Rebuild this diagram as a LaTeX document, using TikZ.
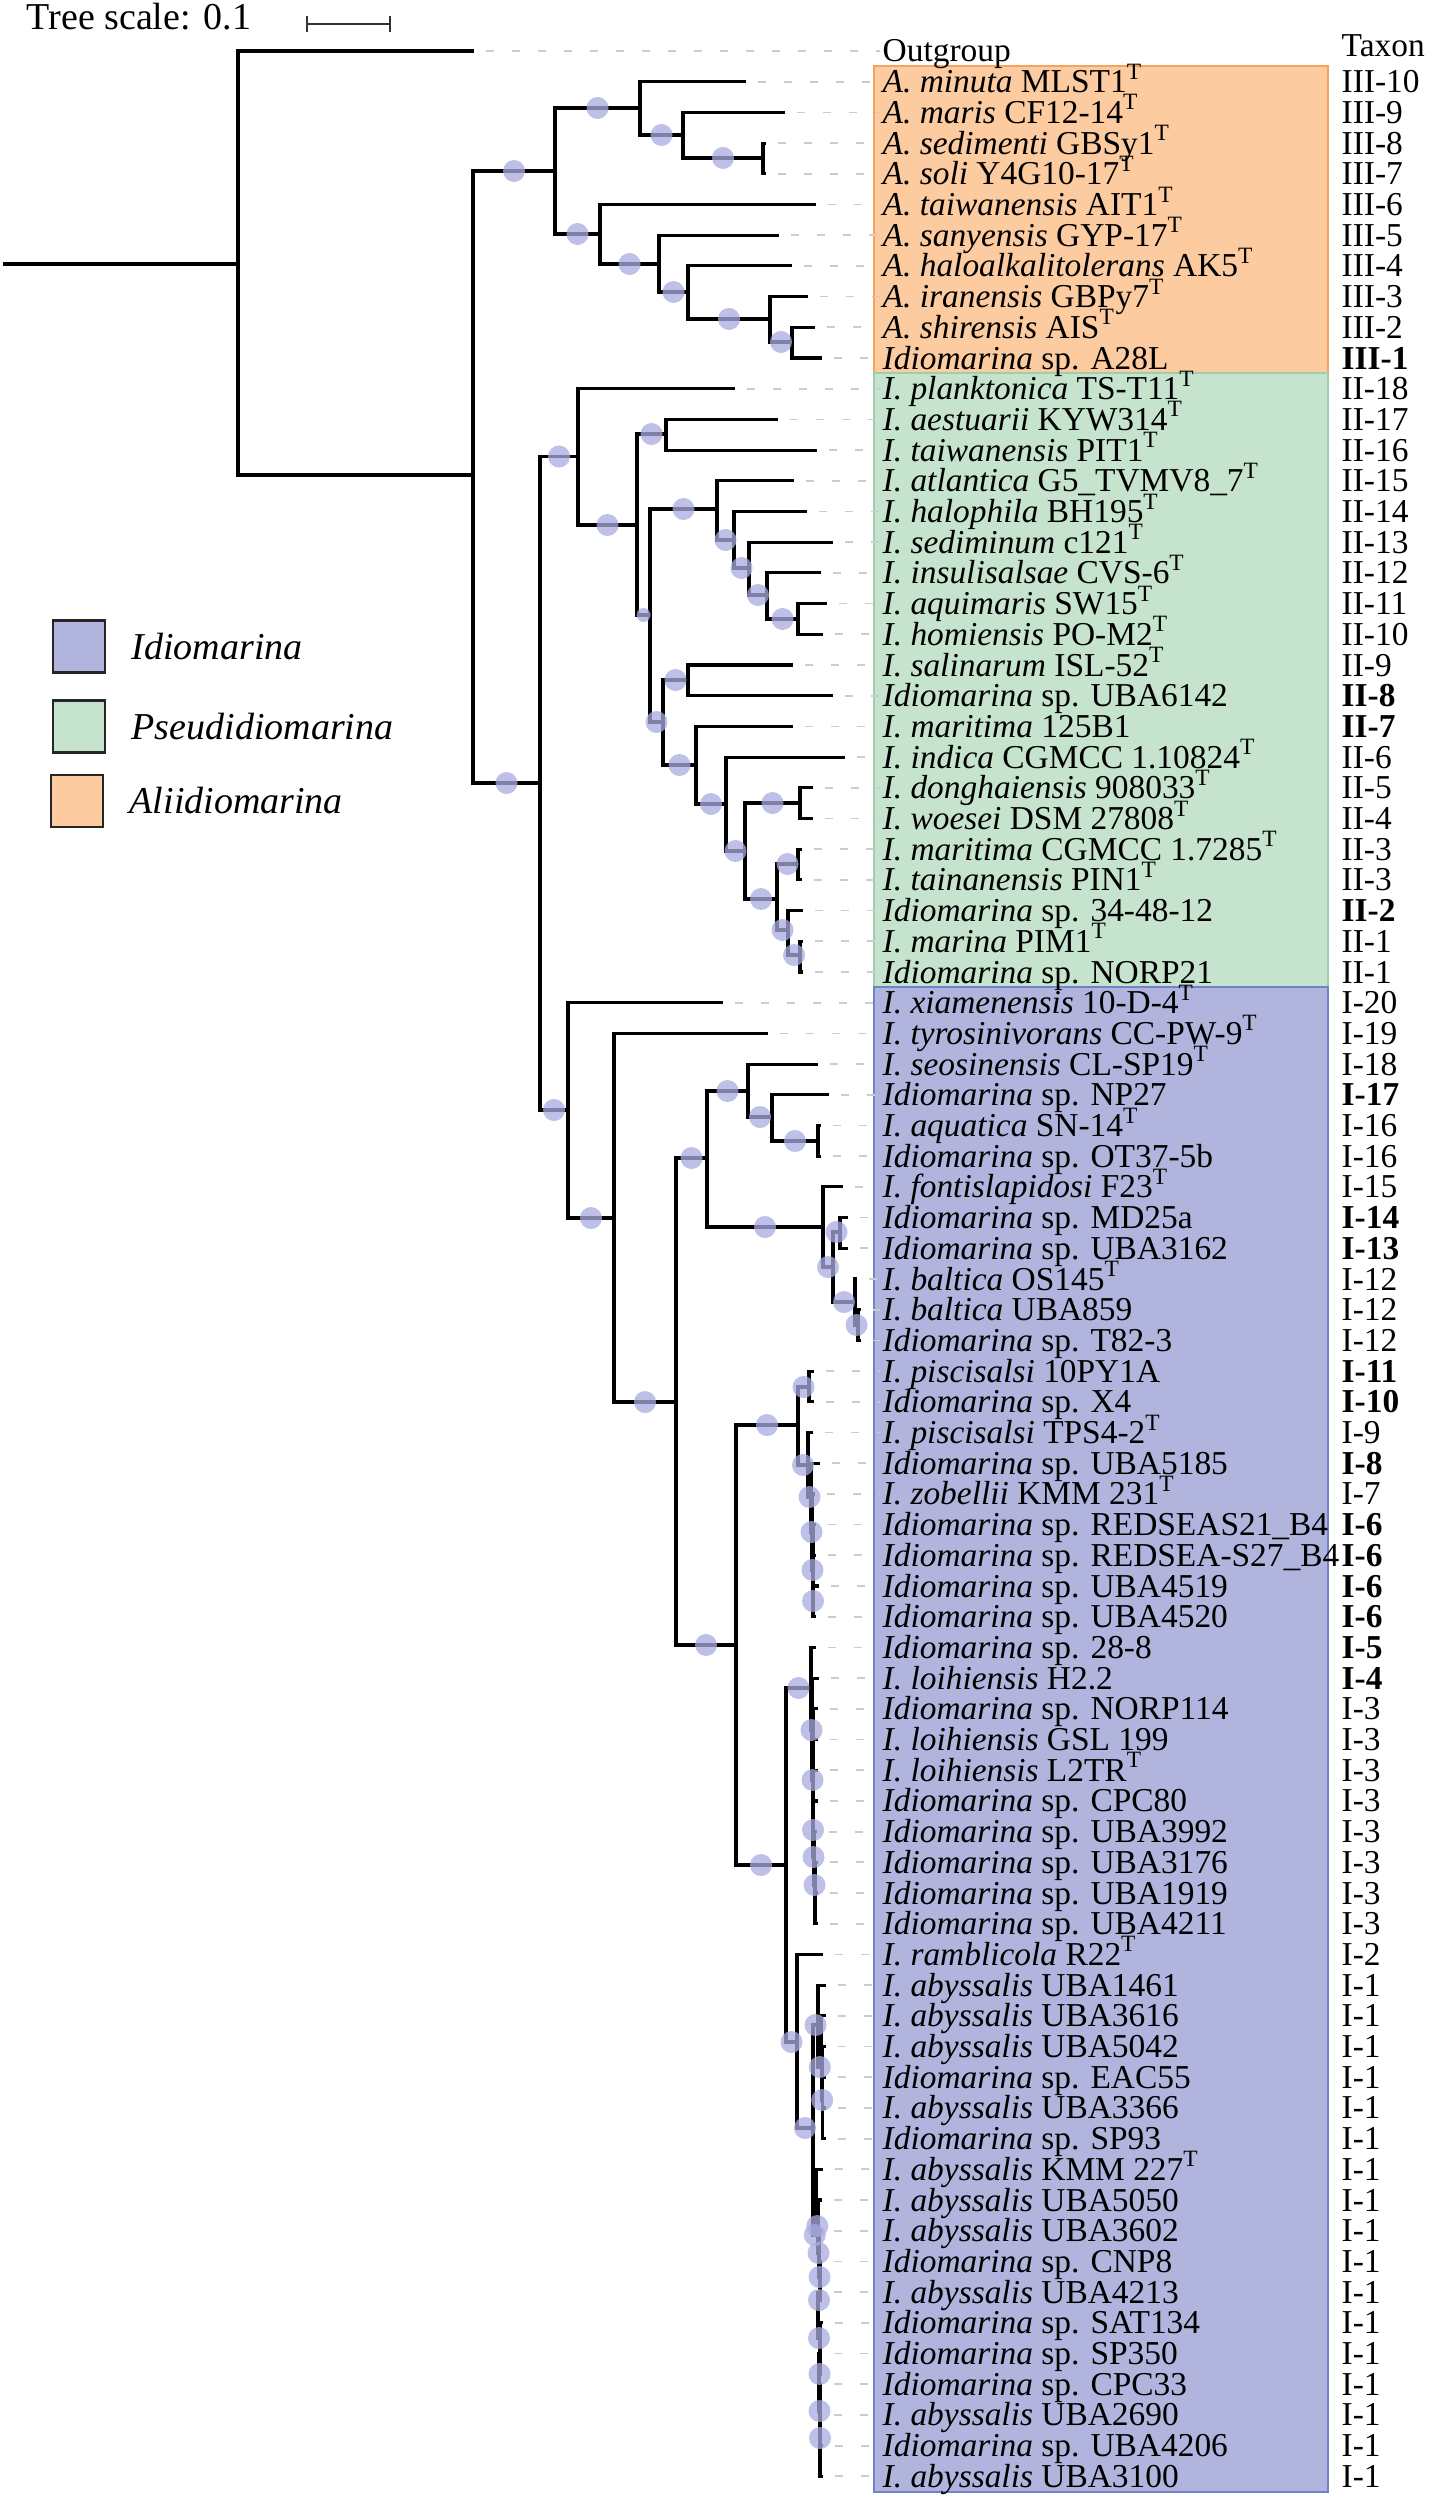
\documentclass[tikz,border=0pt]{standalone}
\usepackage{fontspec}
\setmainfont{Liberation Serif}
\usetikzlibrary{positioning}

\definecolor{alifill}{RGB}{252,203,160}
\definecolor{alidraw}{RGB}{244,164,96}
\definecolor{psefill}{RGB}{198,228,205}
\definecolor{psedraw}{RGB}{160,205,172}
\definecolor{idifill}{RGB}{177,180,221}
\definecolor{ididraw}{RGB}{112,130,200}
\definecolor{bootc}{RGB}{170,172,225}

\newcommand{\supT}{\smash{\textsuperscript{T}}}
\newcommand{\Isp}{\textit{Idiomarina} sp.}

% parent / child / support circle (0 none, 1 big, 2 small)
\newcommand{\treeedges}{%
r/t0/0, r/a/0, a/ali/1, a/pi/1,
ali/ali1/1, ali/ali2/1, ali1/t1/0, ali1/ali1b/1, ali1b/t2/0, ali1b/ali1c/1,
ali1c/t3/0, ali1c/t4/0, ali2/t5/0, ali2/ali2b/1, ali2b/t6/0, ali2b/ali2c/1,
ali2c/t7/0, ali2c/ali2d/1, ali2d/t8/0, ali2d/ali2e/1, ali2e/t9/0, ali2e/t10/0,
pi/ps/1, pi/id/1,
ps/t11/0, ps/ps1/1, ps1/ps2/1, ps1/ps3/2, ps2/t12/0, ps2/t13/0,
ps3/ps4/1, ps3/ps5/1, ps4/t14/0, ps4/ps4b/1, ps4b/t15/0, ps4b/ps4c/1,
ps4c/t16/0, ps4c/ps4d/1, ps4d/t17/0, ps4d/ps4e/1, ps4e/t18/0, ps4e/t19/0,
ps5/ps6/1, ps5/ps7/1, ps6/t20/0, ps6/t21/0, ps7/t22/0, ps7/ps7b/1,
ps7b/t23/0, ps7b/ps7c/1, ps7c/ps8/1, ps7c/ps9/1, ps8/t24/0, ps8/t25/0,
ps9/ps9a/1, ps9/ps9b/1, ps9a/t26/0, ps9a/t27/0, ps9b/t28/0, ps9b/ps9c/1,
ps9c/t29/0, ps9c/t30/0,
id/t31/0, id/id1/1, id1/t32/0, id1/id2/1, id2/id3/1, id2/id4/1,
id3/id3a/1, id3/id3b/1, id3a/t33/0, id3a/id3c/1, id3c/t34/0, id3c/id3d/1,
id3d/t35/0, id3d/t36/0, id3b/t37/0, id3b/id3e/1, id3e/id3f/1, id3e/id3g/1,
id3f/t38/0, id3f/t39/0, id3g/t40/0, id3g/id3h/1, id3h/t41/0, id3h/t42/0,
id4/id5/1, id4/id6/1, id5/id5a/1, id5/id5b/1, id5a/t43/0, id5a/t44/0,
id5b/t45/0, id5b/id5c/1, id5c/t46/0, id5c/id5d/1, id5d/t47/0, id5d/id5e/1,
id5e/t48/0, id5e/t49/0, id5e/id5f/1, id5f/t50/0, id5f/t51/0,
id6/id7/1, id6/id8/1, id7/t52/0, id7/id7a/1, id7a/t53/0, id7a/id7b/1,
id7b/t54/0, id7b/t55/0, id7b/id7c/1, id7c/t56/0, id7c/t57/0, id7c/id7d/1,
id7d/t58/0, id7d/id7e/1, id7e/t59/0, id7e/t60/0, id7e/t61/0,
id8/t62/0, id8/id9/1, id9/u0/1, id9/w0/1,
u0/t63/0, u0/u1/1, u1/t64/0, u1/u2/1, u2/t65/0, u2/t66/0, u2/t67/0, u2/t68/0,
w0/t69/0, w0/w1/1, w1/t70/0, w1/w2/1, w2/t71/0, w2/w3/1, w3/t72/0, w3/w4/1,
w4/t73/0, w4/w5/1, w5/t74/0, w5/w6/1, w6/t75/0, w6/w7/1, w7/t76/0, w7/w8/1,
w8/t77/0, w8/t78/0, w8/t79/0}

\tikzset{
  branch/.style={line width=0.9pt, black},
  guide/.style={black!20, line width=0.5pt, dash pattern=on 0.08cm off 0.18cm},
  leaf/.style={anchor=base west, inner sep=0pt, text height=0.22cm, text depth=0.04cm,
    font=\fontsize{9.5}{10}\selectfont},
  boot0/.style={inner sep=0pt},
  boot1/.style={circle, inner sep=0pt, minimum size=0.22cm, fill=bootc, fill opacity=0.75},
  boot2/.style={boot1, minimum size=0.14cm},
  clade/.style={line width=0.6pt},
  legbox/.style={draw=black!85, line width=0.6pt, minimum size=0.52cm, inner sep=0pt},
  legtext/.style={inner sep=0pt, font=\fontsize{10.8}{12}\selectfont\itshape}
}

\begin{document}
\begin{tikzpicture}[x=0.01cm, y=-0.01cm]
\useasboundingbox (0,0) rectangle (1432,2500);
\fill[white] (0,0) rectangle (1432,2500);

% genus boxes
\filldraw[clade, fill=alifill, draw=alidraw] (874,66.4) rectangle (1328,373.4);
\filldraw[clade, fill=psefill, draw=psedraw] (874,373.4) rectangle (1328,987.4);
\filldraw[clade, fill=idifill, draw=ididraw] (874,987.4) rectangle (1328,2491.7);

% leaves: row / tip x / strain / taxon
\foreach \i/\tip/\name/\tax in {
0/474/{Outgroup}/{},
1/746/{\textit{A. minuta} MLST1\supT}/{III-10},
2/785/{\textit{A. maris} CF12-14\supT}/{III-9},
3/766/{\textit{A. sedimenti} GBSy1\supT}/{III-8},
4/766/{\textit{A. soli} Y4G10-17\supT}/{III-7},
5/816/{\textit{A. taiwanensis} AIT1\supT}/{III-6},
6/779/{\textit{A. sanyensis} GYP-17\supT}/{III-5},
7/792/{\textit{A. haloalkalitolerans} AK5\supT}/{III-4},
8/808/{\textit{A. iranensis} GBPy7\supT}/{III-3},
9/815/{\textit{A. shirensis} AIS\supT}/{III-2},
10/822/{\Isp{} A28L}/{\textbf{III-1}},
11/735/{\textit{I. planktonica} TS-T11\supT}/{II-18},
12/778/{\textit{I. aestuarii} KYW314\supT}/{II-17},
13/817/{\textit{I. taiwanensis} PIT1\supT}/{II-16},
14/794/{\textit{I. atlantica} G5\_TVMV8\_7\supT}/{II-15},
15/807/{\textit{I. halophila} BH195\supT}/{II-14},
16/833/{\textit{I. sediminum} c121\supT}/{II-13},
17/821/{\textit{I. insulisalsae} CVS-6\supT}/{II-12},
18/827/{\textit{I. aquimaris} SW15\supT}/{II-11},
19/823/{\textit{I. homiensis} PO-M2\supT}/{II-10},
20/793/{\textit{I. salinarum} ISL-52\supT}/{II-9},
21/833/{\Isp{} UBA6142}/{\textbf{II-8}},
22/793/{\textit{I. maritima} 125B1}/{\textbf{II-7}},
23/845/{\textit{I. indica} CGMCC 1.10824\supT}/{II-6},
24/813/{\textit{I. donghaiensis} 908033\supT}/{II-5},
25/813/{\textit{I. woesei} DSM 27808\supT}/{II-4},
26/802/{\textit{I. maritima} CGMCC 1.7285\supT}/{II-3},
27/802/{\textit{I. tainanensis} PIN1\supT}/{II-3},
28/803/{\Isp{} 34-48-12}/{\textbf{II-2}},
29/803/{\textit{I. marina} PIM1\supT}/{II-1},
30/803/{\Isp{} NORP21}/{II-1},
31/723/{\textit{I. xiamenensis} 10-D-4\supT}/{I-20},
32/768/{\textit{I. tyrosinivorans} CC-PW-9\supT}/{I-19},
33/818/{\textit{I. seosinensis} CL-SP19\supT}/{I-18},
34/829/{\Isp{} NP27}/{\textbf{I-17}},
35/821/{\textit{I. aquatica} SN-14\supT}/{I-16},
36/821/{\Isp{} OT37-5b}/{I-16},
37/843/{\textit{I. fontislapidosi} F23\supT}/{I-15},
38/848/{\Isp{} MD25a}/{\textbf{I-14}},
39/848/{\Isp{} UBA3162}/{\textbf{I-13}},
40/857/{\textit{I. baltica} OS145\supT}/{I-12},
41/861/{\textit{I. baltica} UBA859}/{I-12},
42/861/{\Isp{} T82-3}/{I-12},
43/814/{\textit{I. piscisalsi} 10PY1A}/{\textbf{I-11}},
44/814/{\Isp{} X4}/{\textbf{I-10}},
45/813/{\textit{I. piscisalsi} TPS4-2\supT}/{I-9},
46/820/{\Isp{} UBA5185}/{\textbf{I-8}},
47/815/{\textit{I. zobellii} KMM 231\supT}/{I-7},
48/816/{\Isp{} REDSEAS21\_B4}/{\textbf{I-6}},
49/816/{\Isp{} REDSEA-S27\_B4}/{\textbf{I-6}},
50/819/{\Isp{} UBA4519}/{\textbf{I-6}},
51/816/{\Isp{} UBA4520}/{\textbf{I-6}},
52/816/{\Isp{} 28-8}/{\textbf{I-5}},
53/819/{\textit{I. loihiensis} H2.2}/{\textbf{I-4}},
54/818/{\Isp{} NORP114}/{I-3},
55/818/{\textit{I. loihiensis} GSL 199}/{I-3},
56/818/{\textit{I. loihiensis} L2TR\supT}/{I-3},
57/818/{\Isp{} CPC80}/{I-3},
58/817/{\Isp{} UBA3992}/{I-3},
59/818/{\Isp{} UBA3176}/{I-3},
60/818/{\Isp{} UBA1919}/{I-3},
61/818/{\Isp{} UBA4211}/{I-3},
62/823/{\textit{I. ramblicola} R22\supT}/{I-2},
63/826/{\textit{I. abyssalis} UBA1461}/{I-1},
64/826/{\textit{I. abyssalis} UBA3616}/{I-1},
65/826/{\textit{I. abyssalis} UBA5042}/{I-1},
66/826/{\Isp{} EAC55}/{I-1},
67/826/{\textit{I. abyssalis} UBA3366}/{I-1},
68/826/{\Isp{} SP93}/{I-1},
69/823/{\textit{I. abyssalis} KMM 227\supT}/{I-1},
70/822/{\textit{I. abyssalis} UBA5050}/{I-1},
71/822/{\textit{I. abyssalis} UBA3602}/{I-1},
72/822/{\Isp{} CNP8}/{I-1},
73/822/{\textit{I. abyssalis} UBA4213}/{I-1},
74/823/{\Isp{} SAT134}/{I-1},
75/822/{\Isp{} SP350}/{I-1},
76/822/{\Isp{} CPC33}/{I-1},
77/822/{\textit{I. abyssalis} UBA2690}/{I-1},
78/823/{\Isp{} UBA4206}/{I-1},
79/823/{\textit{I. abyssalis} UBA3100}/{I-1}}{
  \pgfmathsetmacro\yy{51+30.7*\i}
  \coordinate (t\i) at (\tip,\yy);
  \coordinate (g\i) at (880,\yy);
  \draw[guide, shorten <=0.12cm] (t\i) -- (g\i);
  \node[leaf] (l\i) at (882,\yy+11) {\name};
  \node[leaf] (x\i) at (1341,\yy+11) {\tax};
}
\node[leaf] (taxhead) at (1341,57) {Taxon};

% internal nodes
\foreach \n/\nx/\ny in {r/238/264, a/473/475,
  ali/555/171, ali1/640/108, ali1b/683/135, ali1c/763/158, ali2/600/234,
  ali2b/659/264, ali2c/688/292, ali2d/770/319, ali2e/792/342,
  pi/540/783, ps/578/456.5, ps1/637/525, ps2/666/434, ps3/650/615,
  ps4/717/509, ps4b/734/540, ps4c/749/568, ps4d/767/595, ps4e/798/619,
  ps5/663/722, ps6/688/680, ps7/696/765, ps7b/726/804, ps7c/745/851,
  ps8/800/803, ps9/777/899, ps9a/798/864, ps9b/788/930, ps9c/800/955,
  id/568/1110, id1/614/1218, id2/676/1402, id3/707/1158, id3a/748/1091,
  id3c/772/1117, id3d/818/1141, id3b/823/1227, id3e/833/1267, id3f/840/1232,
  id3g/855/1302, id3h/858/1325,
  id4/736/1645, id5/798/1425, id5a/809/1387, id5b/808/1465, id5c/811/1497,
  id5d/812/1532, id5e/813/1570, id5f/813/1601,
  id6/786/1865, id7/811/1688, id7a/812/1730, id7b/813/1780, id7c/813/1830,
  id7d/814/1857, id7e/815/1885,
  id8/797/2042, id9/813/2128, u0/818/2025, u1/821.7/2067, u2/822.7/2100,
  w0/816.5/2235, w1/818/2226, w2/819/2253, w3/820/2277, w4/818/2300,
  w5/820/2338, w6/819/2374, w7/820/2411, w8/820/2438}
  \coordinate (\n) at (\nx,\ny);

% branches, then support circles on top
\coordinate (rs) at (3,264);
\draw[branch] (rs) -- (r);
\foreach \pa/\ch/\bs in \treeedges
  \draw[branch] (\pa) |- (\ch);
\foreach \pa/\ch/\bs in \treeedges
  \path (\pa) |- node[boot\bs, pos=0.75] {} (\ch);

% tree scale
\node[anchor=base west, inner sep=0pt, font=\fontsize{10.8}{12}\selectfont] (scale) at (26,30) {Tree scale: 0.1};
\coordinate (sb1) at (307,24);
\coordinate (sb2) at (390,24);
\draw[line width=0.45pt, black!80] (sb1) -- (sb2)
  (sb1) ++(0,-8) -- ++(0,16) (sb2) ++(0,-8) -- ++(0,16);

% legend
\node[legbox, fill=idifill] (legI) at (79,646.5) {};
\node[legtext, right=0.25cm of legI] (legIt) {Idiomarina};
\node[legbox, fill=psefill] (legP) at (79,726.5) {};
\node[legtext, right=0.25cm of legP] (legPt) {Pseudidiomarina};
\node[legbox, fill=alifill] (legA) at (77,801) {};
\node[legtext, right=0.25cm of legA] (legAt) {Aliidiomarina};
\end{tikzpicture}
\end{document}
